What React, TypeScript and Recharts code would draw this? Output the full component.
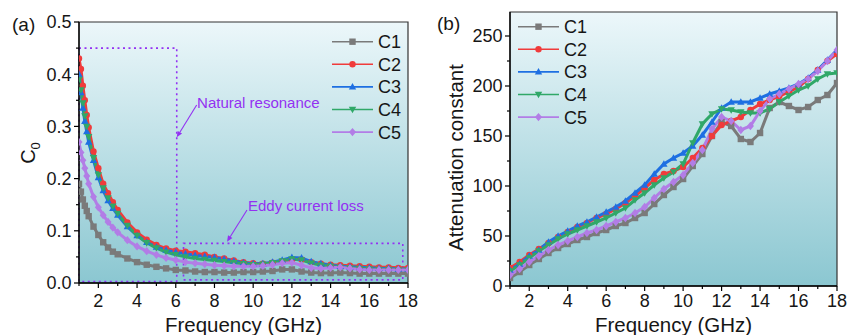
import React from 'react';
import { LineChart, Line, XAxis, YAxis, CartesianGrid, ReferenceArea, ReferenceLine, ReferenceDot } from 'recharts';

const FONT = '"Liberation Sans", Arial, Helvetica, sans-serif';
const ANN = '#9331f2';

// ---- panel (a): C0 vs frequency ----
const freqA = [
  1, 1.1, 1.2, 1.3, 1.4, 1.5,
  1.75, 2, 2.25, 2.5, 2.75, 3,
  3.5, 4, 4.5, 5, 5.5, 6, 6.5, 7, 7.5, 8,
  8.5, 9, 9.5, 10, 10.5, 11, 11.5, 12, 12.5, 13,
  13.5, 14, 14.5, 15, 15.5, 16, 16.5, 17, 17.5, 18,
];
const c1A = [
  0.19, 0.175, 0.16, 0.148, 0.138, 0.128,
  0.108, 0.092, 0.078, 0.068, 0.06, 0.055,
  0.047, 0.04, 0.035, 0.031, 0.028, 0.025, 0.024, 0.022, 0.021, 0.021,
  0.02, 0.02, 0.021, 0.021, 0.022, 0.023, 0.026, 0.026, 0.022, 0.02,
  0.019, 0.019, 0.02, 0.019, 0.018, 0.018, 0.018, 0.018, 0.018, 0.018,
];
const c2A = [
  0.43, 0.41, 0.378, 0.35, 0.322, 0.298,
  0.252, 0.22, 0.19, 0.172, 0.155, 0.14,
  0.116, 0.097, 0.083, 0.073, 0.066, 0.062, 0.06, 0.057, 0.054, 0.05,
  0.047, 0.043, 0.04, 0.038, 0.037, 0.039, 0.042, 0.045, 0.045, 0.04,
  0.037, 0.035, 0.034, 0.033, 0.032, 0.031, 0.03, 0.03, 0.029, 0.029,
];
const c3A = [
  0.4, 0.365, 0.335, 0.31, 0.29, 0.27,
  0.235, 0.202, 0.177, 0.158, 0.143, 0.13,
  0.108, 0.091, 0.078, 0.069, 0.063, 0.059, 0.056, 0.053, 0.051, 0.049,
  0.046, 0.042, 0.039, 0.037, 0.037, 0.04, 0.044, 0.049, 0.048, 0.041,
  0.037, 0.034, 0.032, 0.031, 0.03, 0.029, 0.028, 0.028, 0.027, 0.027,
];
const c4A = [
  0.39, 0.37, 0.345, 0.32, 0.3, 0.28,
  0.24, 0.207, 0.182, 0.163, 0.147, 0.133,
  0.11, 0.091, 0.077, 0.067, 0.059, 0.054, 0.05, 0.047, 0.045, 0.043,
  0.041, 0.039, 0.037, 0.035, 0.036, 0.039, 0.042, 0.046, 0.044, 0.038,
  0.034, 0.032, 0.03, 0.029, 0.028, 0.027, 0.026, 0.026, 0.025, 0.025,
];
const c5A = [
  0.27, 0.25, 0.235, 0.22, 0.205, 0.19,
  0.165, 0.145, 0.13, 0.117, 0.106, 0.097,
  0.082, 0.07, 0.061, 0.054, 0.048, 0.044, 0.04, 0.038, 0.036, 0.034,
  0.033, 0.032, 0.032, 0.032, 0.033, 0.035, 0.038, 0.039, 0.034, 0.029,
  0.028, 0.029, 0.03, 0.028, 0.026, 0.025, 0.025, 0.025, 0.025, 0.025,
];

// ---- panel (b): attenuation constant vs frequency ----
const freqB = [
  1, 1.5, 2, 2.5, 3, 3.5, 4, 4.5, 5, 5.5, 6, 6.5, 7, 7.5, 8, 8.5, 9, 9.5,
  10, 10.5, 11, 11.5, 12, 12.5, 13, 13.5, 14, 14.5, 15, 15.5, 16, 16.5, 17, 17.5, 18,
];
const c1B = [8, 14, 21, 27, 33, 38, 42, 46, 49, 53, 56, 60, 63, 68, 73, 82, 91, 99, 107, 120, 132, 150, 164, 160, 147, 144, 153, 178, 184, 180, 176, 179, 186, 191, 203];
const c2B = [18, 24, 31, 37, 43, 49, 54, 59, 63, 68, 72, 77, 83, 90, 98, 106, 112, 115, 119, 128, 138, 150, 161, 165, 169, 176, 182, 186, 190, 194, 199, 207, 216, 225, 232];
const c3B = [16, 22, 30, 36, 44, 50, 55, 60, 64, 69, 74, 79, 85, 93, 101, 112, 122, 128, 133, 140, 151, 164, 178, 184, 184, 184, 188, 192, 195, 198, 202, 208, 216, 226, 236];
const c4B = [15, 21, 28, 35, 41, 47, 52, 56, 60, 64, 68, 73, 78, 86, 93, 101, 108, 114, 122, 143, 162, 172, 177, 176, 174, 173, 173, 177, 184, 190, 196, 200, 207, 212, 213];
const c5B = [11, 17, 24, 30, 36, 41, 45, 49, 53, 56, 60, 64, 68, 73, 79, 88, 97, 104, 111, 123, 136, 157, 169, 165, 156, 160, 175, 187, 192, 197, 202, 207, 215, 225, 236];

const xTicks = [1, 2, 3, 4, 5, 6, 7, 8, 9, 10, 11, 12, 13, 14, 15, 16, 17, 18];
const yTicksA = [0, 0.05, 0.1, 0.15, 0.2, 0.25, 0.3, 0.35, 0.4, 0.45, 0.5];
const yTicksB = [0, 25, 50, 75, 100, 125, 150, 175, 200, 225, 250];

const dataA = freqA.map((f, i) => ({ f, C1: c1A[i], C2: c2A[i], C3: c3A[i], C4: c4A[i], C5: c5A[i] }));
const dataB = freqB.map((f, i) => ({ f, C1: c1B[i], C2: c2B[i], C3: c3B[i], C4: c4B[i], C5: c5B[i] }));

const SERIES = [
  { key: 'C1', color: '#7a7a7a', shape: 'square' },
  { key: 'C2', color: '#f03b3b', shape: 'circle' },
  { key: 'C3', color: '#1e6fe2', shape: 'up' },
  { key: 'C4', color: '#30a868', shape: 'down' },
  { key: 'C5', color: '#b27de6', shape: 'diamond' },
];

function Marker({ cx, cy, shape, color, s = 3 }: any) {
  if (cx == null || cy == null) return null;
  if (shape === 'square') return <rect x={cx - s} y={cy - s} width={2 * s} height={2 * s} fill={color} />;
  if (shape === 'circle') return <circle cx={cx} cy={cy} r={s} fill={color} />;
  if (shape === 'up')
    return <polygon points={`${cx},${cy - s * 1.2} ${cx + s * 1.15},${cy + s * 0.85} ${cx - s * 1.15},${cy + s * 0.85}`} fill={color} />;
  if (shape === 'down')
    return <polygon points={`${cx},${cy + s * 1.2} ${cx + s * 1.15},${cy - s * 0.85} ${cx - s * 1.15},${cy - s * 0.85}`} fill={color} />;
  return <polygon points={`${cx},${cy - s * 1.3} ${cx + s * 1.1},${cy} ${cx},${cy + s * 1.3} ${cx - s * 1.1},${cy}`} fill={color} />;
}

function XTick({ x, y, payload, base }: any) {
  const v = payload.value;
  const major = v % 2 === 0;
  return (
    <g>
      <line x1={x} y1={y} x2={x} y2={y + (major ? 5 : 3)} stroke="#000" strokeWidth={1.2} />
      {major && (
        <text x={x} y={base} textAnchor="middle" fontSize={18} fontFamily={FONT} fill="#161616">
          {v}
        </text>
      )}
    </g>
  );
}

function YTick({ x, y, payload, isMajor, fmt }: any) {
  const v = payload.value;
  const major = isMajor(v);
  return (
    <g>
      <line x1={x} y1={y} x2={x - (major ? 5 : 3)} y2={y} stroke="#000" strokeWidth={1.2} />
      {major && (
        <text x={x - 7.5} y={y} dy="0.35em" textAnchor="end" fontSize={18} fontFamily={FONT} fill="#161616">
          {fmt(v)}
        </text>
      )}
    </g>
  );
}

function Arrow({ x1, y1, x2, y2 }: any) {
  const a = Math.atan2(y2 - y1, x2 - x1);
  const L = 6;
  const W = 2.6;
  const bx = x2 - L * Math.cos(a);
  const by = y2 - L * Math.sin(a);
  const pts = `${x2},${y2} ${bx - W * Math.sin(a)},${by + W * Math.cos(a)} ${bx + W * Math.sin(a)},${by - W * Math.cos(a)}`;
  return (
    <g>
      <line x1={x1} y1={y1} x2={bx} y2={by} stroke={ANN} strokeWidth={1.1} />
      <polygon points={pts} fill={ANN} />
    </g>
  );
}

const annText = (label: string) => (p: any) => (
  <text x={p.cx} y={p.cy} dy="0.35em" fontSize={15} fontFamily={FONT} fill={ANN}>
    {label}
  </text>
);

function seriesLines() {
  return SERIES.map((s) => (
    <Line
      key={s.key}
      dataKey={s.key}
      stroke={s.color}
      strokeWidth={3}
      activeDot={false}
      dot={(p: any) => <Marker key={`${s.key}-${p.index}`} cx={p.cx} cy={p.cy} shape={s.shape} color={s.color} s={3.2} />}
      isAnimationActive={false}
    />
  ));
}

function Gradient({ id }: { id: string }) {
  return (
    <defs>
      <linearGradient id={id} x1="0" y1="0" x2="0" y2="1">
        <stop offset="0%" stopColor="#ecf7fa" />
        <stop offset="100%" stopColor="#8bc7d1" />
      </linearGradient>
    </defs>
  );
}

function LegendBox({ x0, y0 }: { x0: number; y0: number }) {
  return (
    <g>
      {SERIES.map((s, i) => {
        const y = y0 + i * 22.6;
        return (
          <g key={s.key}>
            <line x1={x0} y1={y} x2={x0 + 41} y2={y} stroke={s.color} strokeWidth={1.6} />
            <Marker cx={x0 + 20.5} cy={y} shape={s.shape} color={s.color} s={3.2} />
            <text x={x0 + 46} y={y} dy="0.36em" fontSize={18} fontFamily={FONT} fill="#161616">
              {s.key}
            </text>
          </g>
        );
      })}
    </g>
  );
}

export default function App() {
  return (
    <div style={{ position: 'fixed', left: 0, top: 0, width: 848, height: 335, background: '#fff', overflow: 'hidden' }}>
      <div style={{ position: 'absolute', left: 0, top: 0 }}>
        <LineChart width={430} height={335} data={dataA} margin={{ top: 22, right: 22, bottom: 0, left: 0 }}>
          <Gradient id="bgA" />
          <CartesianGrid fill="url(#bgA)" horizontal={false} vertical={false} stroke="none" />
          <XAxis
            dataKey="f"
            type="number"
            domain={[1, 18]}
            ticks={xTicks}
            interval={0}
            height={52}
            tickSize={0}
            tickMargin={0}
            tickLine={false}
            axisLine={{ stroke: '#000', strokeWidth: 1.3 }}
            tick={(p: any) => <XTick {...p} base={306.5} />}
            allowDataOverflow
          />
          <YAxis
            type="number"
            domain={[0, 0.5]}
            ticks={yTicksA}
            interval={0}
            width={79}
            tickSize={0}
            tickMargin={0}
            tickLine={false}
            axisLine={{ stroke: '#000', strokeWidth: 1.3 }}
            tick={(p: any) => (
              <YTick {...p} isMajor={(v: number) => Math.round(v * 100) % 10 === 0} fmt={(v: number) => v.toFixed(1)} />
            )}
            allowDataOverflow
          />
          <ReferenceArea x1={1} x2={6.05} y1={0.003} y2={0.45} fill="none" stroke={ANN} strokeWidth={1.6} strokeDasharray="2 3.5" />
          <ReferenceArea x1={6.4} x2={17.73} y1={0.006} y2={0.076} fill="none" stroke={ANN} strokeWidth={1.6} strokeDasharray="2 3.5" />
          {seriesLines()}
          <ReferenceLine segment={[{ x: 7.08, y: 0.341 }, { x: 6.05, y: 0.279 }]} shape={Arrow} />
          <ReferenceLine segment={[{ x: 9.68, y: 0.14 }, { x: 8.65, y: 0.079 }]} shape={Arrow} />
          <ReferenceDot x={7.1} y={0.345} r={0} shape={annText('Natural resonance')} />
          <ReferenceDot x={9.73} y={0.148} r={0} shape={annText('Eddy current loss')} />
          <ReferenceArea x1={1} x2={18} y1={0} y2={0.5} fill="none" stroke="#333" strokeWidth={1.2} />
        </LineChart>
      </div>

      <div style={{ position: 'absolute', left: 430, top: 0 }}>
        <LineChart width={418} height={335} data={dataB} margin={{ top: 12, right: 11, bottom: 0, left: 0 }}>
          <Gradient id="bgB" />
          <CartesianGrid fill="url(#bgB)" horizontal={false} vertical={false} stroke="none" />
          <XAxis
            dataKey="f"
            type="number"
            domain={[1, 18]}
            ticks={xTicks}
            interval={0}
            height={49}
            tickSize={0}
            tickMargin={0}
            tickLine={false}
            axisLine={{ stroke: '#000', strokeWidth: 1.3 }}
            tick={(p: any) => <XTick {...p} base={306.5} />}
            allowDataOverflow
          />
          <YAxis
            type="number"
            domain={[0, 274]}
            ticks={yTicksB}
            interval={0}
            width={80}
            tickSize={0}
            tickMargin={0}
            tickLine={false}
            axisLine={{ stroke: '#000', strokeWidth: 1.3 }}
            tick={(p: any) => <YTick {...p} isMajor={(v: number) => v % 50 === 0} fmt={(v: number) => String(v)} />}
            allowDataOverflow
          />
          {seriesLines()}
          <ReferenceArea x1={1} x2={18} y1={0} y2={274} fill="none" stroke="#333" strokeWidth={1.2} />
        </LineChart>
      </div>

      {/* texts and legends */}
      <svg width={848} height={335} style={{ position: 'absolute', left: 0, top: 0, pointerEvents: 'none' }}>
        <text x={12} y={31} fontSize={19} fontFamily={FONT} fill="#161616">(a)</text>
        <text x={437} y={30} fontSize={19} fontFamily={FONT} fill="#161616">(b)</text>
        <text x={243.5} y={332} textAnchor="middle" fontSize={20.5} fontFamily={FONT} fill="#161616">Frequency (GHz)</text>
        <text x={673.5} y={332} textAnchor="middle" fontSize={20.5} fontFamily={FONT} fill="#161616">Frequency (GHz)</text>
        <text x={34.5} y={153} transform="rotate(-90 34.5 153)" textAnchor="middle" fontSize={20} fontFamily={FONT} fill="#161616">
          C<tspan fontSize={13} dy={5}>0</tspan>
        </text>
        <text x={463} y={157.5} transform="rotate(-90 463 157.5)" textAnchor="middle" fontSize={20.5} fontFamily={FONT} fill="#161616">
          Attenuation constant
        </text>
        <LegendBox x0={332} y0={41.7} />
        <LegendBox x0={518} y0={26.7} />
      </svg>
    </div>
  );
}
